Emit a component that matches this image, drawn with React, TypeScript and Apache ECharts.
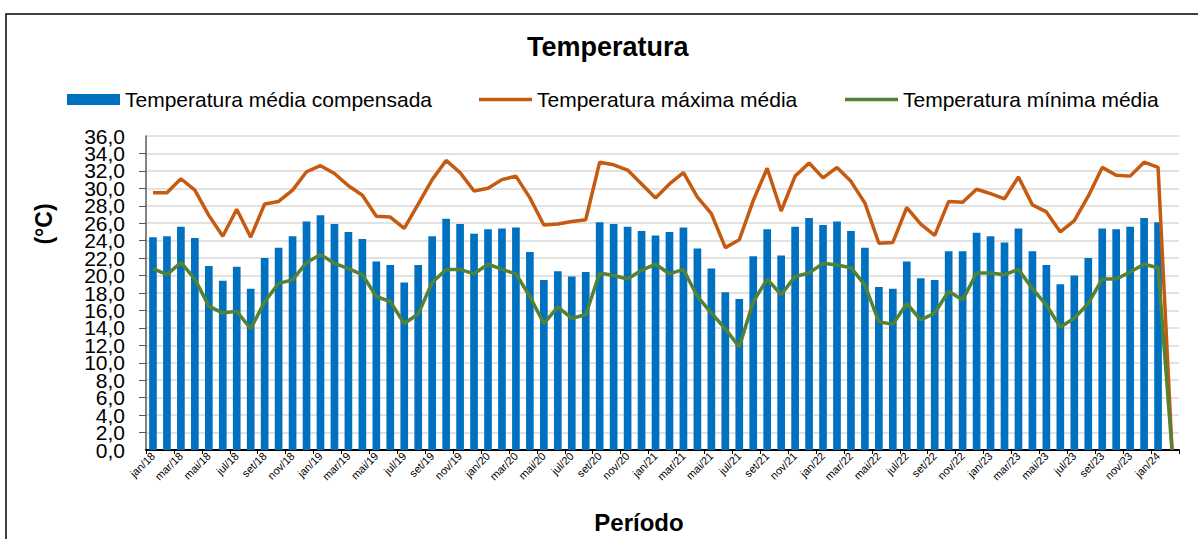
import React, { useEffect, useRef } from "react";
import * as echarts from "echarts";

const monthNames = ["jan", "fev", "mar", "abr", "mai", "jun", "jul", "ago", "set", "out", "nov", "dez"];
const years = ["18", "19", "20", "21", "22", "23"];
const categories: string[] = [];
years.forEach((y) => monthNames.forEach((m) => categories.push(`${m}/${y}`)));
categories.push("jan/24", "fev/24");

const mediaCompensada = [
  24.4, 24.5, 25.6, 24.3, 21.1, 19.4, 21.0, 18.5, 22.0, 23.2, 24.5, 26.2,
  26.9, 25.9, 25.0, 24.2, 21.6, 21.2, 19.2, 21.2, 24.5, 26.5, 25.9, 24.8,
  25.3, 25.4, 25.5, 22.7, 19.5, 20.5, 19.9, 20.4, 26.1, 25.9, 25.6, 25.1,
  24.6, 25.0, 25.5, 23.1, 20.8, 18.1, 17.3, 22.2, 25.3, 22.3, 25.6, 26.6,
  25.8, 26.2, 25.1, 23.2, 18.7, 18.5, 21.6, 19.7, 19.5, 22.8, 22.8, 24.9,
  24.5, 23.8, 25.4, 22.8, 21.2, 19.0, 20.0, 22.0, 25.4, 25.3, 25.6, 26.6,
  26.1, 0,
];

const maximaMedia = [
  29.5, 29.5, 31.1, 29.8, 26.9, 24.5, 27.6, 24.4, 28.2, 28.5, 29.8, 31.9,
  32.6, 31.7, 30.3, 29.2, 26.8, 26.7, 25.4, 28.2, 31.0, 33.2, 31.8, 29.7,
  30.0, 31.0, 31.4, 28.9, 25.8, 25.9, 26.2, 26.4, 33.0, 32.7, 32.1, 30.5,
  28.9, 30.5, 31.8, 29.0, 27.1, 23.2, 24.1, 28.6, 32.3, 27.4, 31.4, 32.9,
  31.2, 32.4, 30.8, 28.3, 23.7, 23.8, 27.8, 25.9, 24.6, 28.5, 28.4, 29.9,
  29.4, 28.8, 31.3, 28.1, 27.3, 25.0, 26.3, 29.1, 32.4, 31.5, 31.4, 33.0,
  32.4, 0,
];

const minimaMedia = [
  20.8, 20.1, 21.5, 19.6, 16.5, 15.7, 15.9, 13.9, 17.0, 19.1, 19.5, 21.5,
  22.4, 21.4, 20.8, 20.1, 17.6, 17.0, 14.5, 15.6, 19.2, 20.7, 20.7, 20.2,
  21.3, 20.7, 20.2, 17.6, 14.5, 16.4, 15.1, 15.5, 20.3, 20.0, 19.6, 20.6,
  21.3, 20.2, 20.7, 17.6, 15.7, 13.9, 11.8, 17.0, 19.6, 17.8, 19.9, 20.3,
  21.4, 21.2, 20.9, 18.9, 14.7, 14.4, 16.8, 14.9, 15.7, 18.2, 17.2, 20.3,
  20.3, 20.1, 20.7, 18.5, 16.6, 14.1, 15.1, 16.8, 19.6, 19.6, 20.4, 21.3,
  20.9, 0,
];

const seriesNames = [
  "Temperatura média compensada",
  "Temperatura máxima média",
  "Temperatura mínima média",
];

const FONT = "'Liberation Sans', Arial, sans-serif";

export default function App() {
  const ref = useRef<HTMLDivElement>(null);
  useEffect(() => {
    document.body.style.margin = "0";
    if (!ref.current) return;
    const chart = echarts.init(ref.current, null, { renderer: "svg" });
    const legendBase = {
      top: 89,
      padding: 0,
      itemWidth: 53,
      itemGap: 0,
      textStyle: { fontFamily: FONT, fontSize: 21, color: "#000" },
      selectedMode: false,
    };
    const yLabelBase = {
      fontSize: 21,
      lineHeight: 14,
      fontFamily: FONT,
      color: "#000",
      margin: 21,
      hideOverlap: false,
      formatter: (v: number) => v.toFixed(1).replace(".", ","),
    };
    chart.setOption({
      animation: false,
      backgroundColor: "#fff",
      title: {
        text: "Temperatura",
        left: 527,
        top: 33,
        padding: 0,
        textStyle: { fontFamily: FONT, fontSize: 27, fontWeight: "bold", color: "#000" },
      },
      legend: [
        { ...legendBase, left: 67, itemHeight: 11, icon: "rect", data: [seriesNames[0]] },
        { ...legendBase, left: 479, itemHeight: 3.5, icon: "rect", data: [seriesNames[1]] },
        { ...legendBase, left: 845, itemHeight: 3.5, icon: "rect", data: [seriesNames[2]] },
      ],
      grid: { left: 146, right: 19, top: 136, bottom: 89, containLabel: false },
      xAxis: {
        type: "category",
        data: categories,
        boundaryGap: true,
        axisLine: { lineStyle: { color: "#000", width: 2 } },
        axisTick: { show: true, interval: 1, length: 4, lineStyle: { color: "#000" } },
        axisLabel: {
          interval: 1,
          rotate: 45,
          fontSize: 11,
          fontFamily: FONT,
          color: "#000",
          margin: 4,
        },
        splitLine: { show: false },
      },
      yAxis: [
        {
          type: "value",
          min: 0,
          max: 36,
          interval: 2,
          axisLine: { show: true, lineStyle: { color: "#595959", width: 1.5 } },
          axisTick: { show: true, length: 7, lineStyle: { color: "#595959" } },
          axisLabel: { ...yLabelBase, showMinLabel: false, showMaxLabel: false },
          splitLine: { show: true, lineStyle: { color: "#d9d9d9", width: 1.5 } },
        },
        {
          type: "value",
          position: "left",
          min: 0,
          max: 36,
          interval: 36,
          axisLine: { show: false },
          axisTick: { show: false },
          axisLabel: { ...yLabelBase },
          splitLine: { show: false },
        },
      ],
      graphic: [
        {
          type: "rect",
          shape: { x: 6, y: 14, width: 1300, height: 700 },
          style: { fill: "none", stroke: "#000", lineWidth: 1.5 },
          silent: true,
          z: 100,
        },
        {
          type: "text",
          x: 44,
          y: 224,
          rotation: Math.PI / 2,
          style: {
            text: "(°C)",
            font: `bold 23px ${FONT}`,
            fill: "#000",
            align: "center",
            verticalAlign: "middle",
          },
        },
        {
          type: "text",
          x: 639,
          y: 522,
          style: {
            text: "Período",
            font: `bold 24px ${FONT}`,
            fill: "#000",
            align: "center",
            verticalAlign: "middle",
          },
        },
      ],
      series: [
        {
          name: seriesNames[0],
          type: "bar",
          data: mediaCompensada,
          barWidth: "55%",
          itemStyle: { color: "#0070C0" },
        },
        {
          name: seriesNames[1],
          type: "line",
          data: maximaMedia,
          symbol: "none",
          lineStyle: { color: "#C55A11", width: 3.5 },
          itemStyle: { color: "#C55A11" },
        },
        {
          name: seriesNames[2],
          type: "line",
          data: minimaMedia,
          symbol: "none",
          lineStyle: { color: "#548235", width: 3.5 },
          itemStyle: { color: "#548235" },
        },
      ],
    });
    return () => chart.dispose();
  }, []);
  return <div ref={ref} style={{ width: 1198, height: 539 }} />;
}
